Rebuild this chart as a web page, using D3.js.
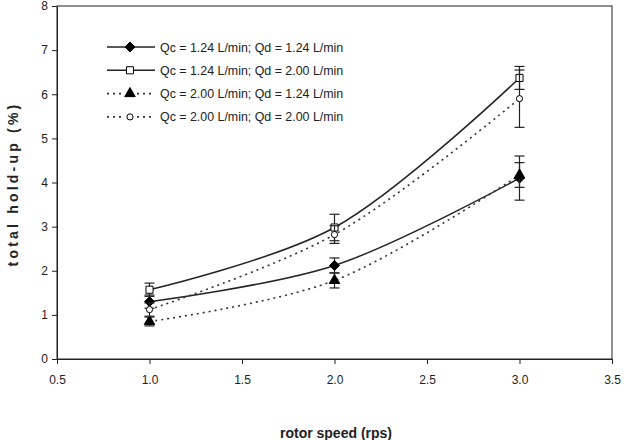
<!DOCTYPE html>
<html><head><meta charset="utf-8">
<script src="https://cdn.jsdelivr.net/npm/d3@7/dist/d3.min.js"></script>
<style>body{margin:0;background:#fff}svg{display:block}text{font-family:"Liberation Sans",Arial,sans-serif;fill:#222}</style>
</head><body><svg id="c" width="628" height="440"></svg>
<script>
const speeds = [1.0, 2.0, 3.0];
const s1 = [1.30, 2.12, 4.10];  // Qc 1.24, Qd 1.24
const s1err = [0.15, 0.17, 0.50];
const s2 = [1.57, 2.98, 6.37];  // Qc 1.24, Qd 2.00
const s2err = [0.15, 0.30, 0.26];
const s3 = [0.85, 1.78, 4.17];  // Qc 2.00, Qd 1.24
const s3err = [0.10, 0.17, 0.28];
const s4 = [1.12, 2.82, 5.90];  // Qc 2.00, Qd 2.00
const s4err = [0.15, 0.20, 0.65];
const labels = ["Qc = 1.24 L/min; Qd = 1.24 L/min","Qc = 1.24 L/min; Qd = 2.00 L/min","Qc = 2.00 L/min; Qd = 1.24 L/min","Qc = 2.00 L/min; Qd = 2.00 L/min"];
const xTicks = [0.5,1.0,1.5,2.0,2.5,3.0,3.5];
const yTicks = [0,1,2,3,4,5,6,7,8];

const series = [
  {v:s1,e:s1err,dash:null,sym:"diamond",fill:"#000"},
  {v:s2,e:s2err,dash:null,sym:"square",fill:"#fff"},
  {v:s3,e:s3err,dash:"2,4",sym:"triangle",fill:"#000"},
  {v:s4,e:s4err,dash:"2,4",sym:"circle",fill:"#fff"}
];

const svg = d3.select("#c");
const L=57,R=612,T=6,B=359;
const x = d3.scaleLinear().domain([0.5,3.5]).range([L,R]);
const y = d3.scaleLinear().domain([0,8]).range([B,T]);

svg.append("rect").attr("x",L).attr("y",T).attr("width",R-L).attr("height",B-T)
  .attr("fill","none").attr("stroke","#222").attr("stroke-width",1);

const xa = svg.append("g").attr("transform",`translate(0,${B})`)
  .call(d3.axisBottom(x).tickValues(xTicks).tickFormat(d3.format(".1f")).tickSize(5).tickSizeOuter(0));
const ya = svg.append("g").attr("transform",`translate(${L},0)`)
  .call(d3.axisLeft(y).tickValues(yTicks).tickFormat(d3.format("d")).tickSize(5).tickSizeOuter(0));
[xa,ya].forEach(a=>{a.select(".domain").attr("stroke","#222");a.selectAll("line").attr("stroke","#222");
  a.selectAll("text").style("font-family","'Liberation Sans',Arial,sans-serif").style("font-size","12px").attr("fill","#333");});
xa.selectAll("text").attr("dy","1.4em");
ya.selectAll("text").attr("x",-9);

const line = d3.line().x((d,i)=>x(speeds[i])).y(d=>y(d)).curve(d3.curveCatmullRom.alpha(0.5));

const diamond = {draw(ctx,size){const r=Math.sqrt(size/2);ctx.moveTo(0,-r);ctx.lineTo(r,0);ctx.lineTo(0,r);ctx.lineTo(-r,0);ctx.closePath();}};
function symPath(sym,size){
  const t = {diamond:diamond,square:d3.symbolSquare,triangle:d3.symbolTriangle,circle:d3.symbolCircle}[sym];
  return d3.symbol().type(t).size(size)();
}
const sizes = {diamond:50,square:50,triangle:48,circle:30};

series.forEach(s=>{
  svg.append("path").datum(s.v).attr("d",line).attr("fill","none")
    .attr("stroke",s.dash?"#333":"#222").attr("stroke-width",s.dash?1.6:1.5)
    .attr("stroke-dasharray",s.dash);
});
series.forEach(s=>{
  const g = svg.append("g");
  s.v.forEach((v,i)=>{
    const cx=x(speeds[i]);
    g.append("line").attr("x1",cx).attr("x2",cx).attr("y1",y(v-s.e[i])).attr("y2",y(v+s.e[i])).attr("stroke","#222").attr("stroke-width",1.2);
    [v-s.e[i],v+s.e[i]].forEach(w=>g.append("line").attr("x1",cx-5).attr("x2",cx+5).attr("y1",y(w)).attr("y2",y(w)).attr("stroke","#222").attr("stroke-width",1.2));
    g.append("path").attr("d",symPath(s.sym,sizes[s.sym])).attr("transform",`translate(${cx},${y(v)})`)
      .attr("fill",s.fill).attr("stroke","#000").attr("stroke-width",1);
  });
});

const lg = svg.append("g");
labels.forEach((t,i)=>{
  const ly = 47 + i*23.3;
  const s = series[i];
  lg.append("line").attr("x1",107).attr("x2",155).attr("y1",ly).attr("y2",ly)
    .attr("stroke",s.dash?"#333":"#222").attr("stroke-width",s.dash?1.6:1.5).attr("stroke-dasharray",s.dash);
  if(s.dash){lg.append("rect").attr("x",124).attr("y",ly-5).attr("width",12).attr("height",10).attr("fill","#fff");}
  lg.append("path").attr("d",symPath(s.sym,sizes[s.sym])).attr("transform",`translate(130,${ly})`)
    .attr("fill",s.fill).attr("stroke","#000").attr("stroke-width",1);
  lg.append("text").attr("x",160).attr("y",ly+4.5).style("font-size","12.4px").text(t);
});

svg.append("text").attr("transform","translate(18,184) rotate(-90)").attr("text-anchor","middle")
  .style("font-size","14px").style("font-weight","bold").style("letter-spacing","3.2px").text("total hold-up (%)");
svg.append("text").attr("x",336).attr("y",438).attr("text-anchor","middle")
  .style("font-size","14px").style("font-weight","bold").text("rotor speed (rps)");
</script></body></html>
